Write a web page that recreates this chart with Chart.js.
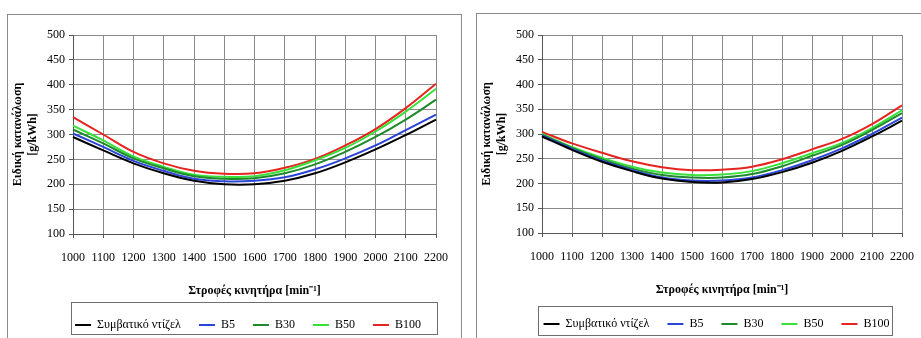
<!DOCTYPE html>
<html>
<head>
<meta charset="utf-8">
<script src="https://cdn.jsdelivr.net/npm/chart.js@4.4.1/dist/chart.umd.min.js"></script>
<style>
  html, body { margin: 0; padding: 0; background: #fff; overflow: hidden; width: 921px; height: 338px; }
  .panel { position: absolute; border: 1px solid #8c8c8c; background: #fff; }
  .panel canvas { display: block; }
  #p1 { left: 7px; top: 14px; }
  #p2 { left: 476px; top: 13px; }
</style>
</head>
<body>
<div class="panel" id="p1"><canvas id="c1" width="453" height="326"></canvas></div>
<div class="panel" id="p2"><canvas id="c2" width="450" height="326"></canvas></div>
<script>
// engine speed [min-1]
const rpm = [1000, 1100, 1200, 1300, 1400, 1500, 1600, 1700, 1800, 1900, 2000, 2100, 2200];

const seriesNames = ['Συμβατικό ντίζελ', 'B5', 'B30', 'B50', 'B100'];
const seriesColors = ['#000000', '#2b44d8', '#1f8a2c', '#38e038', '#e52420'];

// left panel, specific consumption [g/kWh]
const leftDiesel = [295, 268, 242, 222, 207, 200, 200, 207, 222, 244, 270, 299, 330];
const leftB5     = [302, 275, 247, 227, 211, 206, 207, 214, 230, 252, 278, 309, 340];
const leftB30    = [310, 282, 252, 232, 216, 211, 212, 222, 240, 265, 295, 330, 370];
const leftB50    = [318, 288, 256, 235, 219, 215, 216, 228, 248, 273, 306, 346, 392];
const leftB100   = [335, 300, 265, 242, 227, 221, 222, 233, 251, 278, 311, 353, 402];

// right panel
const rightDiesel = [295, 268, 244, 225, 210, 203, 202, 209, 223, 242, 266, 295, 327];
const rightB5     = [297, 270, 246, 227, 212, 206, 206, 212, 227, 247, 271, 300, 333];
const rightB30    = [298, 272, 249, 230, 217, 212, 212, 219, 235, 256, 278, 308, 342];
const rightB50    = [300, 274, 252, 234, 222, 217, 218, 225, 241, 261, 282, 312, 348];
const rightB100   = [304, 281, 262, 245, 233, 227, 228, 234, 249, 269, 290, 320, 358];

const yTitle = ['Ειδική κατανάλωση', '[g/kWh]'];
const xTitle = 'Στροφές κινητήρα [min⁻¹]';

const serif = "'Liberation Serif', 'Times New Roman', serif";

// frame around the legend, and a horizontal nudge of the legend row
const legendFrame = {
    id: 'legendFrame',
    afterLayout(chart, args, opts) {
        chart.legend.left += opts.shift;
        chart.legend.right += opts.shift;
    },
    afterDraw(chart, args, opts) {
        const ctx = chart.ctx;
        const area = chart.chartArea;
        const top = chart.legend.top + opts.dy;
        ctx.save();
        ctx.strokeStyle = '#6e6e6e';
        ctx.lineWidth = 1;
        ctx.strokeRect(Math.round(area.left + opts.dl) + 0.5, Math.round(top) + 0.5,
            Math.round(area.right - area.left + opts.dw), opts.h);
        ctx.restore();
    }
};

function buildDatasets(values) {
    return values.map((data, i) => ({
        label: seriesNames[i],
        data: data,
        borderColor: seriesColors[i],
        backgroundColor: seriesColors[i],
        borderWidth: 2,
        pointRadius: 0,
        tension: 0.4
    }));
}

function makeChart(id, values, pad, frame) {
    const canvas = document.getElementById(id);
    return new Chart(canvas, {
        type: 'line',
        data: { labels: rpm, datasets: buildDatasets(values) },
        options: {
            responsive: false,
            animation: false,
            layout: { padding: { top: pad.top, right: pad.right, left: 0, bottom: 0 } },
            plugins: {
                legend: {
                    position: 'bottom',
                    labels: {
                        usePointStyle: true,
                        pointStyle: 'line',
                        pointStyleWidth: 16,
                        padding: 18,
                        color: '#000',
                        font: { family: serif, size: 12 }
                    }
                },
                tooltip: { enabled: false },
                legendFrame: frame
            },
            scales: {
                x: {
                    offset: false,
                    afterFit: (s) => { s.height = 67; },
                    grid: { color: '#8a8a8a', tickColor: '#555', tickLength: 4, drawTicks: true },
                    border: { color: '#555' },
                    ticks: { color: '#000', padding: 13, maxRotation: 0, autoSkip: false, font: { family: serif, size: 12 } },
                    title: {
                        display: true, text: xTitle, color: '#000',
                        padding: { top: 0, bottom: 3 },
                        font: { family: serif, size: 12, weight: 'bold' }
                    }
                },
                y: {
                    min: 100, max: 500,
                    afterFit: (s) => { s.width = 65; },
                    grid: { color: '#8a8a8a', tickColor: '#555', tickLength: 4 },
                    border: { color: '#555' },
                    ticks: { stepSize: 50, color: '#000', padding: 4, font: { family: serif, size: 12 } },
                    title: {
                        display: true, text: yTitle, color: '#000',
                        padding: { top: 2, bottom: 0 },
                        font: { family: serif, size: 12, weight: 'bold', lineHeight: 1.3 }
                    }
                }
            }
        },
        plugins: [legendFrame]
    });
}

makeChart('c1', [leftDiesel, leftB5, leftB30, leftB50, leftB100],
    { top: 20, right: 23 }, { shift: 25, dl: -2, dw: 3, dy: 1, h: 32 });
makeChart('c2', [rightDiesel, rightB5, rightB30, rightB50, rightB100],
    { top: 21, right: 17 }, { shift: 23, dl: -4, dw: -6, dy: 6, h: 29 });
</script>
</body>
</html>
